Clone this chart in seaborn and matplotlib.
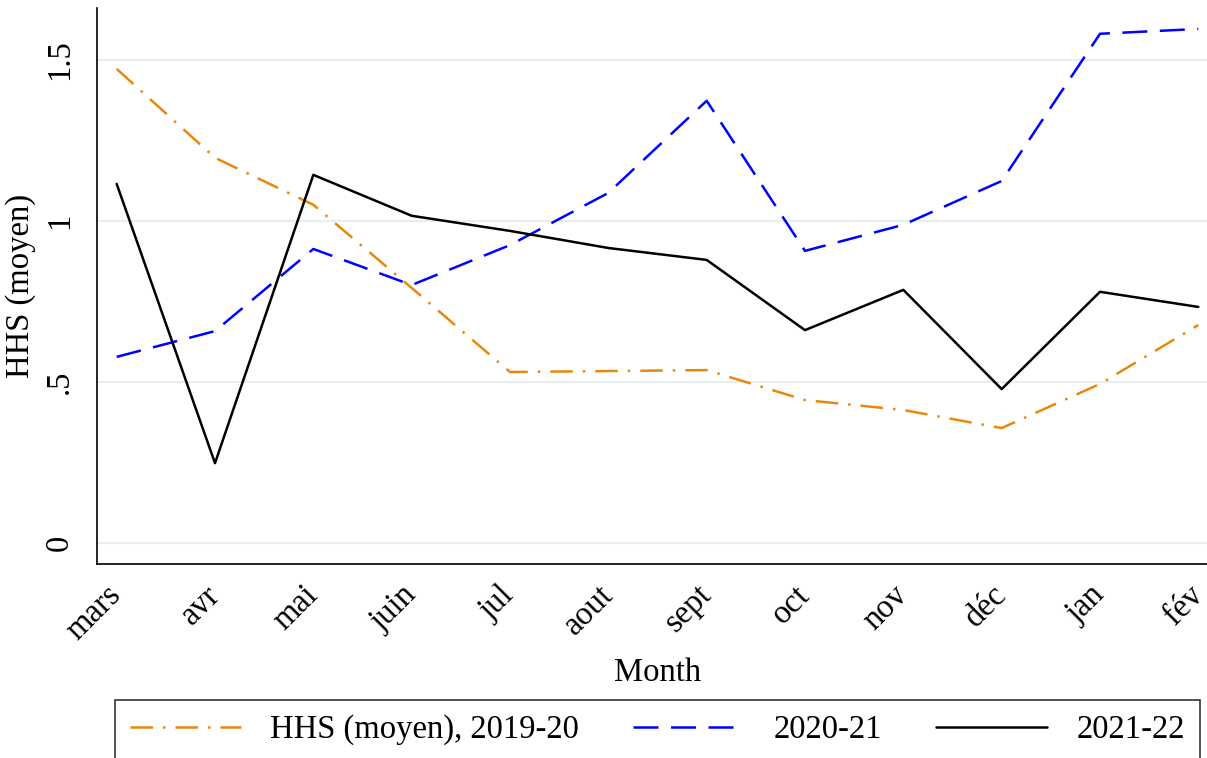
import matplotlib
matplotlib.use("Agg")
import pandas as pd
import matplotlib.pyplot as plt
import seaborn as sns

# -------------------------
# Data
# -------------------------
months = ["mars", "avr", "mai", "juin", "jul", "aout", "sept", "oct", "nov", "déc", "jan", "fév"]
hhs_2019_20 = [1.472, 1.196, 1.050, 0.792, 0.531, 0.534, 0.537, 0.444, 0.413, 0.357, 0.494, 0.677]
hhs_2020_21 = [0.578, 0.658, 0.913, 0.801, 0.925, 1.087, 1.373, 0.907, 0.988, 1.124, 1.581, 1.596]
hhs_2021_22 = [1.115, 0.248, 1.143, 1.016, 0.969, 0.916, 0.879, 0.661, 0.786, 0.478, 0.780, 0.733]
series_names = ["HHS (moyen), 2019-20", "2020-21", "2021-22"]

rows = []
for name, vals in zip(series_names, [hhs_2019_20, hhs_2020_21, hhs_2021_22]):
    for i, v in enumerate(vals):
        rows.append({"pos": i, "HHS": v, "serie": name})
df = pd.DataFrame(rows)

# -------------------------
# Plot
# -------------------------
sns.set_style("white")
plt.rcParams["font.family"] = ["Liberation Serif", "DejaVu Serif"]
plt.rcParams["text.color"] = "black"
plt.rcParams["axes.labelcolor"] = "black"
plt.rcParams["xtick.color"] = "black"
plt.rcParams["ytick.color"] = "black"

FS = 23.5

fig = plt.figure(figsize=(12.07, 7.58), dpi=100)
ax = fig.add_axes([97 / 1207, 194 / 758, 1121 / 1207, 556 / 758])

palette = {series_names[0]: "#e8880c", series_names[1]: "#0000ff", series_names[2]: "#000000"}
dashes = {series_names[0]: (9, 4, 1, 4), series_names[1]: (10, 5), series_names[2]: ""}

sns.lineplot(data=df, x="pos", y="HHS", hue="serie", style="serie",
             palette=palette, dashes=dashes, linewidth=1.8, ax=ax, legend=False)

ax.set_xlim(-0.2, 11.2)
ax.set_ylim(-0.065, 1.661)
ax.set_xticks(range(len(months)))
ax.set_xticklabels(months, rotation=45, ha="right", va="center",
                   rotation_mode="anchor", fontsize=FS)
ax.set_yticks([0, 0.5, 1, 1.5])
ax.set_yticklabels(["0", ".5", "1", "1.5"], rotation=90, va="center", fontsize=FS)
ax.tick_params(axis="both", direction="out", length=10, width=1, color="black", pad=6)
ax.tick_params(axis="x", pad=9)
ax.grid(axis="y", color="#e6eeef", linewidth=1.5)
ax.set_axisbelow(True)

for s in ["top", "right"]:
    ax.spines[s].set_visible(False)
for s in ["left", "bottom"]:
    ax.spines[s].set_color("black")
    ax.spines[s].set_linewidth(1.2)

ax.set_xlabel("Month", fontsize=FS, labelpad=8)
ax.set_ylabel("HHS (moyen)", fontsize=FS, labelpad=6)

handles = ax.get_lines()[:3]
leg = fig.legend(handles, series_names, loc="upper left",
                 bbox_to_anchor=(115 / 1207, -0.03, 1085 / 1207, 0.03 + 58 / 758),
                 mode="expand", ncol=3, fontsize=FS, frameon=True, fancybox=False,
                 edgecolor="black", handlelength=3.4, handletextpad=0.9,
                 borderpad=0.45, borderaxespad=0, columnspacing=1.5)
leg.get_frame().set_linewidth(1.2)

fig.savefig("out.png", dpi=100)
